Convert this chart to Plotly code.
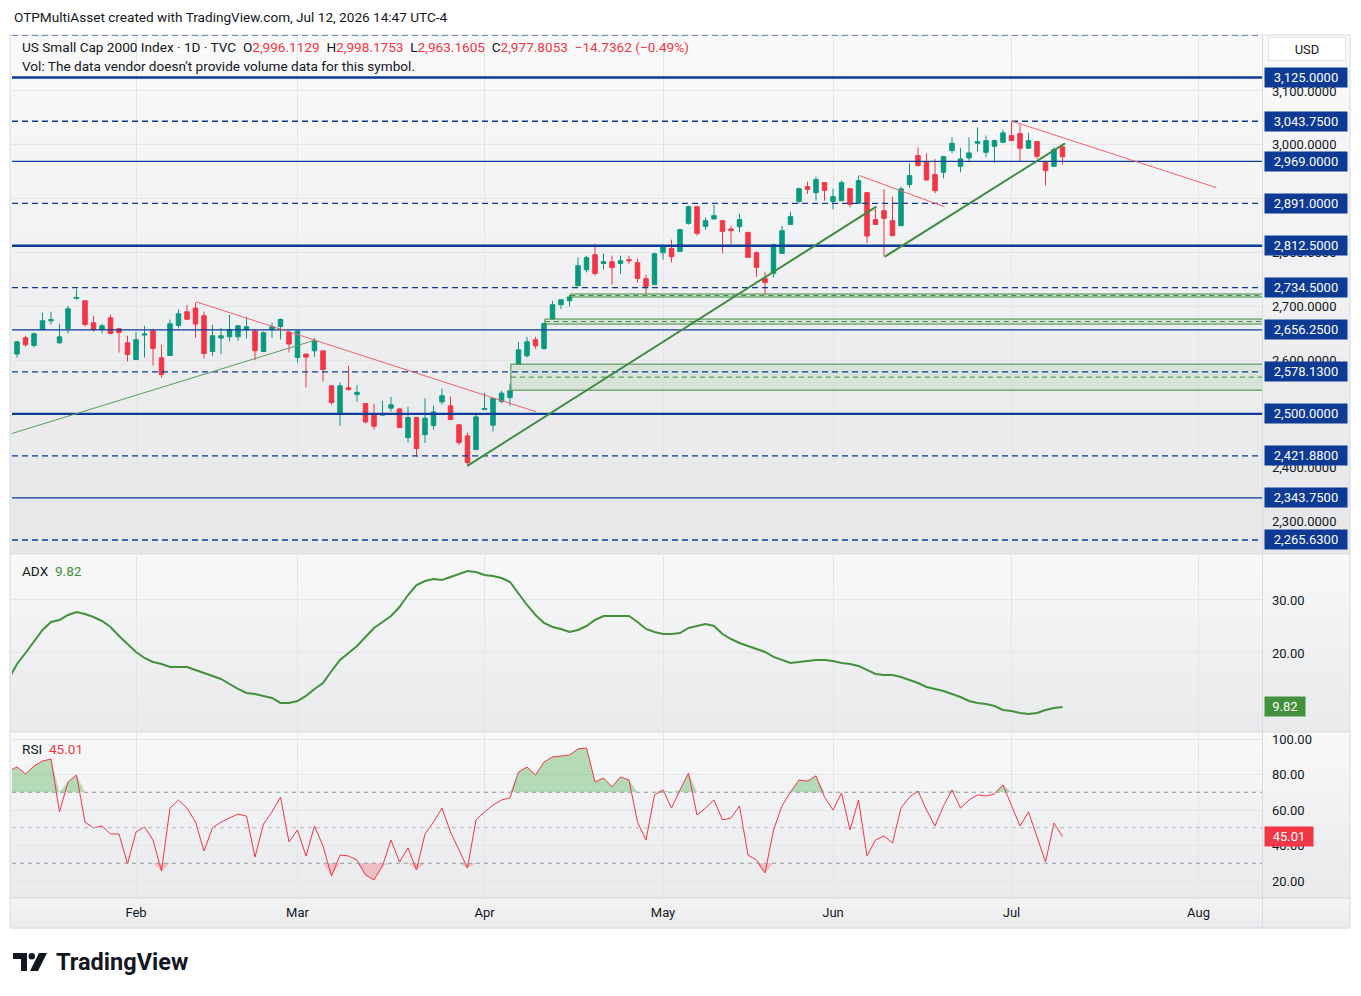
import pandas as pd
import plotly.graph_objects as go

# ---------------- data ----------------
holidays = ["2026-01-19", "2026-02-16", "2026-04-03", "2026-05-25", "2026-06-19", "2026-07-03"]
trade_days = [d for d in pd.bdate_range("2026-01-09", "2026-08-31")
              if d.strftime("%Y-%m-%d") not in holidays]

open_ = [2611.6, 2611.1, 2641.4, 2627.1, 2656.8, 2673.0, 2632.1, 2658.7, 2714.5, 2710.2,
         2669.3, 2656.8, 2678.6, 2658.1, 2632.1, 2601.0, 2646.4, 2654.4, 2604.2, 2608.5,
         2664.3, 2689.7, 2696.6, 2682.3, 2615.9, 2640.8, 2643.2, 2643.2, 2656.3, 2653.8,
         2615.9, 2656.8, 2662.4, 2651.2, 2604.7, 2611.1, 2617.2, 2617.2, 2552.1, 2499.5,
         2548.4, 2535.9, 2519.2, 2499.5, 2497.6, 2510.6, 2509.3, 2455.9, 2493.1, 2461.5,
         2478.3, 2522.3, 2514.9, 2479.6, 2459.1, 2433.6, 2508.0, 2479.0, 2522.9, 2530.3,
         2592.5, 2607.9, 2637.7, 2621.5, 2676.2, 2702.8, 2710.2, 2738.1, 2767.9, 2795.8,
         2779.6, 2782.7, 2779.6, 2786.5, 2780.9, 2751.1, 2740.0, 2799.5, 2807.5, 2801.9,
         2854.0, 2885.0, 2848.4, 2862.2, 2859.0, 2843.6, 2847.8, 2837.2, 2799.5, 2751.7,
         2761.3, 2798.2, 2852.1, 2894.9, 2922.2, 2911.1, 2929.7, 2894.9, 2896.2, 2918.5,
         2891.2, 2911.1, 2860.9, 2877.6, 2859.0, 2849.7, 2926.0, 2979.9, 2968.7, 2944.6,
         2948.8, 2989.2, 2960.0, 2975.6, 3002.8, 2986.0, 2997.2, 3004.6, 3017.1, 3020.8,
         2993.5, 3005.9, 2967.4, 2960.0, 2996.1129]
high_ = [2626.5, 2635.8, 2645.1, 2650.7, 2687.9, 2689.7, 2667.4, 2700.9, 2732.5, 2710.2,
         2682.3, 2666.9, 2684.7, 2660.0, 2645.1, 2652.5, 2663.7, 2658.1, 2628.4, 2674.9,
         2693.5, 2702.8, 2707.0, 2690.3, 2665.6, 2659.4, 2684.2, 2663.7, 2680.4, 2657.6,
         2653.1, 2669.8, 2677.3, 2654.4, 2656.3, 2611.1, 2640.8, 2617.2, 2552.1, 2558.2,
         2589.3, 2553.4, 2519.2, 2518.1, 2524.2, 2531.6, 2509.3, 2513.0, 2494.4, 2528.5,
         2515.5, 2547.1, 2532.2, 2479.6, 2465.2, 2499.5, 2539.1, 2528.5, 2542.8, 2555.3,
         2633.9, 2643.2, 2643.2, 2668.0, 2710.2, 2712.1, 2720.8, 2790.7, 2793.9, 2816.2,
         2797.6, 2793.9, 2793.9, 2793.9, 2788.3, 2758.6, 2799.5, 2814.4, 2823.7, 2844.1,
         2886.9, 2885.0, 2864.6, 2888.2, 2859.0, 2849.7, 2872.0, 2837.2, 2801.9, 2764.1,
         2816.2, 2849.1, 2875.7, 2920.4, 2931.5, 2940.8, 2929.7, 2918.5, 2933.4, 2918.5,
         2942.7, 2911.1, 2880.8, 2918.0, 2903.6, 2922.2, 2965.6, 2995.3, 2984.2, 2973.8,
         2978.0, 3013.9, 2994.2, 3013.9, 3032.5, 3017.1, 3009.7, 3028.3, 3043.7, 3037.6,
         3022.1, 3005.9, 2967.4, 2995.3, 2998.1753]
low_ = [2607.9, 2604.7, 2625.2, 2623.3, 2656.8, 2666.1, 2630.2, 2649.4, 2712.6, 2662.4,
        2653.1, 2649.4, 2648.8, 2614.0, 2597.3, 2601.0, 2604.7, 2589.9, 2567.5, 2608.5,
        2658.7, 2674.9, 2641.9, 2602.9, 2607.9, 2611.1, 2634.5, 2635.8, 2640.1, 2599.9,
        2615.9, 2641.4, 2638.2, 2614.0, 2595.4, 2548.9, 2606.0, 2560.1, 2517.3, 2477.7,
        2542.8, 2522.3, 2482.0, 2470.8, 2497.6, 2504.3, 2474.5, 2446.6, 2420.0, 2446.1,
        2470.8, 2517.3, 2489.4, 2442.4, 2403.3, 2433.6, 2508.0, 2467.1, 2519.9, 2514.9,
        2592.5, 2604.7, 2620.9, 2619.1, 2676.2, 2694.8, 2699.6, 2738.1, 2762.8, 2756.7,
        2767.9, 2740.0, 2760.4, 2779.0, 2744.2, 2722.7, 2740.0, 2786.5, 2781.4, 2801.9,
        2851.6, 2831.1, 2842.3, 2862.2, 2798.2, 2814.4, 2837.2, 2790.7, 2754.8, 2722.7,
        2753.5, 2798.2, 2852.1, 2891.2, 2908.7, 2896.2, 2896.2, 2880.0, 2896.2, 2883.7,
        2891.2, 2816.8, 2852.1, 2792.0, 2831.1, 2849.7, 2919.8, 2959.4, 2933.4, 2909.8,
        2937.7, 2984.2, 2948.8, 2967.4, 2987.9, 2976.7, 2966.3, 3004.6, 3007.8, 2968.7,
        2993.5, 2973.8, 2924.1, 2960.0, 2963.1605]
close_ = [2622.8, 2633.9, 2628.4, 2648.8, 2673.0, 2674.9, 2643.2, 2695.3, 2716.3, 2666.1,
          2656.8, 2663.7, 2649.4, 2651.2, 2610.3, 2637.7, 2648.3, 2621.5, 2573.1, 2667.4,
          2686.0, 2675.8, 2666.9, 2612.2, 2645.1, 2645.1, 2656.3, 2663.7, 2661.8, 2617.2,
          2650.7, 2661.8, 2675.4, 2629.7, 2653.8, 2605.5, 2635.2, 2582.4, 2521.0, 2552.1,
          2545.2, 2540.0, 2485.1, 2477.1, 2500.0, 2516.8, 2474.5, 2493.1, 2435.5, 2492.0,
          2503.7, 2533.5, 2489.4, 2446.6, 2409.4, 2494.4, 2509.9, 2528.5, 2538.5, 2542.8,
          2619.1, 2633.9, 2626.5, 2668.0, 2702.8, 2712.1, 2717.1, 2775.3, 2790.2, 2761.0,
          2782.7, 2771.6, 2784.6, 2784.6, 2751.7, 2736.8, 2797.6, 2810.6, 2792.0, 2842.3,
          2885.0, 2835.4, 2859.0, 2868.3, 2839.1, 2840.4, 2860.9, 2790.7, 2772.1, 2744.2,
          2814.4, 2840.4, 2866.4, 2918.5, 2917.2, 2935.3, 2915.4, 2903.6, 2929.7, 2889.3,
          2933.4, 2830.5, 2852.1, 2863.3, 2831.1, 2918.0, 2942.7, 2961.3, 2934.7, 2914.8,
          2978.0, 3002.8, 2973.8, 2984.9, 3005.9, 3007.8, 3007.8, 3022.1, 3007.8, 2993.5,
          3007.8, 2978.6, 2952.0, 2991.1, 2977.8053]

adx_vals = [15.0, 17.92, 20.0, 22.08, 24.34, 25.85, 26.23, 27.17, 27.74, 27.36,
            26.79, 26.04, 24.91, 23.21, 21.70, 20.19, 19.06, 18.30, 17.92, 17.36,
            17.36, 17.36, 16.79, 16.23, 15.66, 15.09, 14.15, 13.21, 12.45, 12.26,
            11.89, 11.51, 10.57, 10.57, 10.94, 11.89, 13.21, 14.34, 16.60, 18.68,
            20.00, 21.32, 23.02, 24.72, 25.85, 26.98, 28.68, 30.94, 32.83, 33.58,
            33.96, 33.77, 34.34, 34.91, 35.47, 35.28, 34.72, 34.53, 34.15, 33.40,
            31.13, 29.06, 27.17, 25.66, 24.91, 24.53, 23.96, 24.34, 25.09, 26.23,
            26.98, 26.98, 26.98, 26.98, 25.85, 24.53, 23.96, 23.58, 23.58, 23.77,
            24.72, 25.09, 25.47, 25.09, 23.58, 22.64, 21.89, 21.32, 20.75, 20.19,
            19.25, 18.68, 18.11, 18.30, 18.49, 18.68, 18.68, 18.49, 18.11, 17.92,
            17.55, 16.79, 16.04, 15.85, 15.85, 15.47, 14.91, 14.34, 13.58, 13.21,
            12.83, 12.26, 11.70, 10.94, 10.57, 10.38, 10.00, 9.25, 9.06, 8.68,
            8.49, 8.68, 9.25, 9.62, 9.82]

rsi_vals = [82.0, 84.2, 80.3, 84.8, 87.6, 88.7, 58.9, 75.8, 79.7, 53.2,
            49.9, 51.0, 46.5, 46.5, 29.6, 47.6, 50.4, 43.1, 25.6, 61.1,
            65.6, 61.1, 53.2, 36.9, 49.9, 53.2, 55.5, 57.7, 56.6, 33.5,
            52.1, 58.9, 67.3, 42.0, 48.7, 34.1, 51.0, 39.7, 22.8, 34.6,
            34.1, 31.8, 23.4, 20.6, 28.5, 43.1, 30.7, 38.6, 26.2, 46.5,
            53.2, 61.1, 47.6, 37.5, 27.3, 54.4, 58.9, 62.8, 65.6, 66.8,
            81.4, 84.2, 79.7, 87.0, 89.9, 90.4, 91.0, 94.4, 94.9, 75.8,
            78.0, 73.0, 78.6, 76.9, 53.2, 43.1, 68.5, 71.3, 61.1, 71.3,
            80.8, 57.2, 61.1, 65.6, 54.4, 55.5, 62.3, 34.6, 31.8, 24.5,
            48.7, 62.3, 70.1, 76.9, 76.3, 79.2, 67.3, 60.0, 69.6, 48.7,
            65.6, 34.1, 43.1, 45.4, 41.4, 61.1, 67.3, 70.7, 60.0, 51.0,
            62.3, 71.3, 61.1, 65.6, 68.5, 67.9, 69.0, 74.1, 62.3, 51.0,
            58.9, 44.2, 30.7, 52.7, 45.01]

price_ticks = [2300, 2400, 2500, 2600, 2700, 2800, 2900, 3000, 3100]
adx_ticks = [20, 30]
rsi_ticks = [20, 40, 60, 80, 100]

levels = [3203.13, 3125.0, 3043.75, 2969.0, 2891.0, 2812.5, 2734.5,
          2656.25, 2578.13, 2500.0, 2421.88, 2343.75, 2265.63]
level_styles = ["dash", "thick", "dash", "thin", "dash", "thick", "dash",
                "thin", "dash", "thick", "dash", "thin", "dash"]
level_labels = ["", "3,125.0000", "3,043.7500", "2,969.0000", "2,891.0000", "2,812.5000",
                "2,734.5000", "2,656.2500", "2,578.1300", "2,500.0000", "2,421.8800",
                "2,343.7500", "2,265.6300"]

# drawings: (bar0, price0, bar1, price1, colour, width)
trendlines = [
    (0.38, 2463.4, 36.06, 2637.1, "#5a9e5c", 1),
    (22.06, 2708.3, 62.1, 2503.7, "#f0606c", 1),
    (53.98, 2403.3, 102.1, 2885.0, "#3d8b40", 2),
    (103.1, 2792.0, 124.3, 3002.8, "#3d8b40", 2),
    (100.1, 2942.7, 110.1, 2885.0, "#f0606c", 1),
    (118.1, 3043.7, 142.1, 2920.4, "#f0606c", 1),
]
# zones: (bar0, top, bottom)
zones = [
    (59.1, 2592.4, 2544.1),
    (63.1, 2676.2, 2666.9),
    (66.1, 2722.7, 2717.1),
]

# ---------------- geometry ----------------
W, H = 1361, 996
L, R, T, B = 12, 99, 35, 98
PW, PH = W - L - R, H - T - B
X_RANGE = [0.41, 147.47]


def fx(px):
    return (px - L) / PW


def fy(py):
    return (H - B - py) / PH


UP, DOWN = "#089981", "#F23645"
NAVY = "#0c3a94"
TXT = "#131722"
FONT = "Roboto, Arial, sans-serif"
GRID = "#e4e5e9"

xs = list(range(len(close_)))

month_pos, month_txt = [], []
for i in range(1, len(trade_days)):
    if trade_days[i].month != trade_days[i - 1].month:
        month_pos.append(i)
        month_txt.append(trade_days[i].strftime("%b"))

fig = go.Figure()

fig.add_trace(go.Candlestick(
    x=xs, open=open_, high=high_, low=low_, close=close_,
    increasing=dict(line=dict(color=UP, width=1), fillcolor=UP),
    decreasing=dict(line=dict(color=DOWN, width=1), fillcolor=DOWN),
    whiskerwidth=0, xaxis="x", yaxis="y", hoverinfo="skip"))

fig.add_trace(go.Scatter(x=xs, y=adx_vals, mode="lines",
                         line=dict(color="#43913c", width=2), xaxis="x", yaxis="y2",
                         hoverinfo="skip"))

upper = [max(v, 70) for v in rsi_vals]
lower = [min(v, 30) for v in rsi_vals]
fig.add_trace(go.Scatter(x=xs, y=[70] * len(xs), mode="lines", line=dict(width=0),
                         xaxis="x", yaxis="y3", hoverinfo="skip"))
fig.add_trace(go.Scatter(x=xs, y=upper, mode="lines", line=dict(width=0), fill="tonexty",
                         fillcolor="rgba(76,175,80,0.38)", xaxis="x", yaxis="y3",
                         hoverinfo="skip"))
fig.add_trace(go.Scatter(x=xs, y=[30] * len(xs), mode="lines", line=dict(width=0),
                         xaxis="x", yaxis="y3", hoverinfo="skip"))
fig.add_trace(go.Scatter(x=xs, y=lower, mode="lines", line=dict(width=0), fill="tonexty",
                         fillcolor="rgba(242,54,69,0.25)", xaxis="x", yaxis="y3",
                         hoverinfo="skip"))
fig.add_trace(go.Scatter(x=xs, y=rsi_vals, mode="lines",
                         line=dict(color="#F23645", width=1), xaxis="x", yaxis="y3",
                         hoverinfo="skip"))

shapes = []


def hexmix(c1, c2, t):
    a = [int(c1[i:i + 2], 16) for i in (1, 3, 5)]
    b = [int(c2[i:i + 2], 16) for i in (1, 3, 5)]
    return "#%02x%02x%02x" % tuple(round(a[k] + (b[k] - a[k]) * t) for k in range(3))


def gradient(top, bot, ctop, cbot, n=26):
    step = (bot - top) / n
    for k in range(n):
        shapes.append(dict(type="rect", xref="paper", yref="paper",
                           x0=fx(10), x1=fx(1350), y0=fy(top + k * step),
                           y1=fy(top + (k + 1) * step + 0.6),
                           fillcolor=hexmix(ctop, cbot, k / (n - 1)),
                           line=dict(width=0), layer="below"))


gradient(35, 554, "#f9f9fa", "#e6e7e9")
gradient(554, 732, "#f8f8f9", "#e9eaec")
gradient(732, 898, "#f8f8f9", "#e9eaec")
gradient(898, 928, "#f3f3f4", "#ececee", n=6)

# zones
for b0, top, bot in zones:
    shapes.append(dict(type="rect", xref="x", yref="y", x0=b0, x1=X_RANGE[1] + 1,
                       y0=bot, y1=top, fillcolor="rgba(76,160,80,0.13)",
                       line=dict(color="#3d8b40", width=1), layer="above"))
    shapes.append(dict(type="line", xref="x", yref="y", x0=b0, x1=X_RANGE[1] + 1,
                       y0=(top + bot) / 2, y1=(top + bot) / 2,
                       line=dict(color="#3d8b40", width=1, dash="5px,4px"), layer="above"))

# levels
for lv, st in zip(levels, level_styles):
    if st == "dash":
        ln = dict(color=NAVY, width=1.3, dash="6px,4px")
    elif st == "thick":
        ln = dict(color=NAVY, width=2.4)
    else:
        ln = dict(color=NAVY, width=1.2)
    shapes.append(dict(type="line", xref="paper", yref="y", x0=0, x1=1, y0=lv, y1=lv,
                       line=ln, layer="above"))

# trend lines
for b0, p0, b1, p1, col, wd in trendlines:
    shapes.append(dict(type="line", xref="x", yref="y", x0=b0, y0=p0, x1=b1, y1=p1,
                       line=dict(color=col, width=wd), layer="above"))

# RSI bands
for lv, col in [(70, "#9598a1"), (50, "#b2b5be"), (30, "#9598a1")]:
    shapes.append(dict(type="line", xref="paper", yref="y3", x0=0, x1=1, y0=lv, y1=lv,
                       line=dict(color=col, width=1, dash="4px,4px"), layer="above"))

# frame / separators
SEP = "#d9dbe0"
for py in (554, 732, 898):
    shapes.append(dict(type="line", xref="paper", yref="paper", x0=fx(10), x1=fx(1350),
                       y0=fy(py), y1=fy(py), line=dict(color=SEP, width=1)))
shapes.append(dict(type="rect", xref="paper", yref="paper", x0=fx(10), x1=fx(1350),
                   y0=fy(928), y1=fy(35), line=dict(color=SEP, width=1)))
shapes.append(dict(type="line", xref="paper", yref="paper", x0=fx(1262.5), x1=fx(1262.5),
                   y0=fy(928), y1=fy(35), line=dict(color=SEP, width=1)))


# TradingView logo glyph
def path_px(pts):
    return "M " + " L ".join("%f %f" % (fx(a), fy(b)) for a, b in pts) + " Z"


shapes.append(dict(type="path", xref="paper", yref="paper",
                   path=path_px([(13, 953), (27, 953), (27, 971), (21, 971), (21, 959), (13, 959)]),
                   fillcolor=TXT, line=dict(width=0)))
shapes.append(dict(type="circle", xref="paper", yref="paper", x0=fx(28.5), x1=fx(35),
                   y0=fy(959.5), y1=fy(953), fillcolor=TXT, line=dict(width=0)))
shapes.append(dict(type="path", xref="paper", yref="paper",
                   path=path_px([(39, 953), (47, 953), (38, 971), (30, 971)]),
                   fillcolor=TXT, line=dict(width=0)))

ann = []


def txt(x, y, s, size=13.6, color=TXT, **kw):
    d = dict(xref="paper", yref="paper", x=fx(x), y=fy(y), text=s, showarrow=False,
             xanchor="left", yanchor="middle", font=dict(family=FONT, size=size, color=color))
    d.update(kw)
    ann.append(d)


txt(12, 17, "OTPMultiAsset created with TradingView.com, Jul 12, 2026 14:47 UTC-4")
red = lambda s: "<span style='color:%s'>%s</span>" % (DOWN, s)
sp = "\u00a0\u00a0"
txt(20, 47, "US Small Cap 2000 Index · 1D · TVC" + sp + "O" + red("2,996.1129") + sp + "H" +
    red("2,998.1753") + sp + "L" + red("2,963.1605") + sp + "C" + red("2,977.8053") + sp +
    red("−14.7362 (−0.49%)"))
txt(20, 66, "Vol: The data vendor doesn't provide volume data for this symbol.")
txt(20, 571, "ADX\u00a0\u00a0<span style='color:#43913c'>9.82</span>")
txt(20, 749, "RSI\u00a0\u00a0<span style='color:#F23645'>45.01</span>")
txt(54, 962, "<b>TradingView</b>", size=23.5)

# USD box
ann.append(dict(xref="paper", yref="paper", x=fx(1268), y=fy(49), text="USD", showarrow=False,
                xanchor="left", yanchor="middle", width=72, height=18, borderpad=2,
                bgcolor="#ffffff", bordercolor="#e0e3eb", borderwidth=1, align="center",
                font=dict(family=FONT, size=13, color=TXT)))

for lv, lab in zip(levels, level_labels):
    if not lab:
        continue
    ann.append(dict(xref="paper", yref="y", x=fx(1264), y=lv, text=lab, showarrow=False,
                    xanchor="left", yanchor="middle", width=78, height=15, borderpad=2,
                    bgcolor=NAVY, align="center",
                    font=dict(family=FONT, size=13, color="#ffffff")))

ann.append(dict(xref="paper", yref="y2", x=fx(1264), y=adx_vals[-1], text="9.82",
                showarrow=False, xanchor="left", yanchor="middle", width=36, height=15,
                borderpad=2, bgcolor="#43913c", align="center",
                font=dict(family=FONT, size=13, color="#ffffff")))
ann.append(dict(xref="paper", yref="y3", x=fx(1264), y=rsi_vals[-1], text="45.01",
                showarrow=False, xanchor="left", yanchor="middle", width=44, height=15,
                borderpad=2, bgcolor="#F23645", align="center",
                font=dict(family=FONT, size=13, color="#ffffff")))

yax_common = dict(side="right", showgrid=True, gridcolor=GRID, zeroline=False,
                  ticks="", ticklabelstandoff=9, anchor="x", fixedrange=True,
                  tickfont=dict(family=FONT, size=13, color=TXT), showline=False)

fig.update_layout(
    width=W, height=H, margin=dict(l=L, r=R, t=T, b=B),
    paper_bgcolor="#ffffff", plot_bgcolor="rgba(0,0,0,0)",
    showlegend=False, boxgap=0.25, hovermode=False,
    xaxis=dict(range=X_RANGE, tickvals=month_pos, ticktext=month_txt, showgrid=True,
               gridcolor=GRID, zeroline=False, anchor="y3", ticks="",
               ticklabelstandoff=5, rangeslider=dict(visible=False), fixedrange=True,
               tickfont=dict(family=FONT, size=13, color=TXT), showline=False),
    yaxis=dict(domain=[fy(554), 1], range=[2239.6, 3204.0], tickvals=price_ticks,
               tickformat=",.4f", **yax_common),
    yaxis2=dict(domain=[fy(731), fy(555)], range=[5.28, 38.49], tickvals=adx_ticks,
                tickformat=".2f", **yax_common),
    yaxis3=dict(domain=[0, fy(733)], range=[10.42, 103.38], tickvals=rsi_ticks,
                tickformat=".2f", **yax_common),
    shapes=shapes, annotations=ann,
)

fig.write_html("out.html")
